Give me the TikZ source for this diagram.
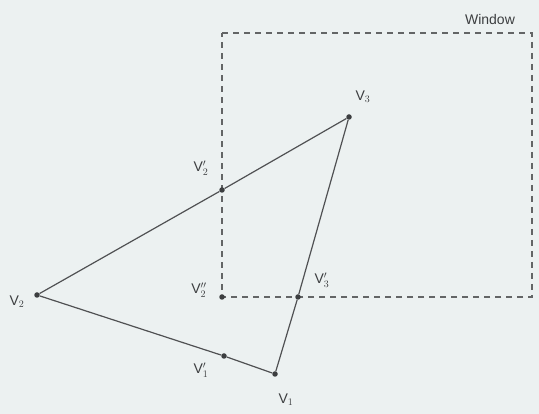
\documentclass[tikz,border=0pt]{standalone}
\usepackage{fontspec}
\setmainfont{Liberation Sans}
\definecolor{bgc}{RGB}{236,241,241}
\definecolor{ink}{RGB}{60,62,64}
\begin{document}
\begin{tikzpicture}[x=1pt,y=-1pt,
  edge/.style={draw=ink!90,line width=1.2pt},
  win/.style={draw=ink!80,dash pattern=on 6pt off 5pt,line width=1.1pt},
  pt/.style={circle,fill=ink,inner sep=0pt,minimum size=5.5pt},
  lbl/.style={font=\fontsize{14}{14}\selectfont,text=ink}]
\fill[bgc] (0,0) rectangle (539,414);
\useasboundingbox (0,0) rectangle (539,414);
\coordinate (wtl) at (222,33);
\coordinate (wtr) at (532,33);
\coordinate (wbr) at (532,297);
\draw[win] (wtl) -- (wtr) -- (wbr) -- (222,297) -- cycle;
\node[pt] (v2) at (37,295) {};
\node[pt] (v1) at (275,374) {};
\node[pt] (v3) at (349,117) {};
\node[pt] (v1p) at (224,356) {};
\node[pt] (v2p) at (222,190) {};
\node[pt] (v2pp) at (222,297) {};
\node[pt] (v3p) at (298,297) {};
\draw[edge] (v2) -- (v2p) -- (v3) -- (v3p) -- (v1) -- (v1p) -- (v2);
\node[lbl] (lw) at (490,19) {Window};
\node[lbl] (l3) at (363,97) {V$_3$};
\node[lbl] (l2p) at (201,168) {V$'_2$};
\node[lbl] (l2pp) at (199,290) {V$''_2$};
\node[lbl] (l3p) at (322,280) {V$'_3$};
\node[lbl] (l1p) at (201,370) {V$'_1$};
\node[lbl] (l1) at (286,400) {V$_1$};
\node[lbl] (l2) at (17,302) {V$_2$};
\end{tikzpicture}
\end{document}
